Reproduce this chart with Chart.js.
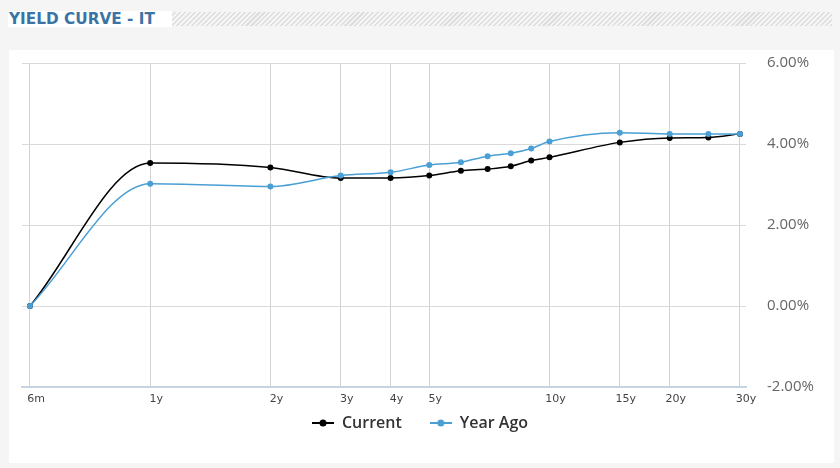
<!DOCTYPE html>
<html>
<head>
<meta charset="utf-8">
<script src="https://cdn.jsdelivr.net/npm/chart.js@4.4.1/dist/chart.umd.min.js"></script>
<style>
  body { margin: 0; background: #f5f5f5; width: 840px; height: 468px; position: relative; overflow: hidden; }
  .hatch { position: absolute; left: 172px; top: 12px; width: 660px; height: 14px;
    background: repeating-linear-gradient(135deg, #f5f5f5 0 2px, #dedede 2px 3.5px); }
  .title { position: absolute; left: 8px; top: 11px; height: 16px; padding: 0 17px 0 1px; background: #fff;
    font: bold 15.3px "DejaVu Sans", sans-serif; color: #3b74a4; line-height: 16px; }
  .panel { position: absolute; left: 9px; top: 50px; width: 825px; height: 413px; background: #fff; }
  #wrap { position: absolute; left: 8px; top: 33px; width: 826px; height: 432px; }
</style>
</head>
<body>
<div class="hatch"></div>
<div class="title">YIELD CURVE - IT</div>
<div class="panel"></div>
<div id="wrap"><canvas id="yieldChart"></canvas></div>
<script>
/**********
 Yield curve - IT
 **********/
const maturities = ['6m','1y','2y','3y','4y','5y','6y','7y','8y','9y','10y','15y','20y','25y','30y'];
const months     = [6, 12, 24, 36, 48, 60, 72, 84, 96, 108, 120, 180, 240, 300, 360];
const current    = [0.00, 3.53, 3.42, 3.16, 3.16, 3.22, 3.34, 3.38, 3.45, 3.59, 3.67, 4.04, 4.15, 4.16, 4.25];
const yearAgo    = [0.00, 3.02, 2.95, 3.22, 3.30, 3.48, 3.55, 3.70, 3.77, 3.89, 4.06, 4.28, 4.25, 4.25, 4.25];
const tickMonths = [6, 12, 24, 36, 48, 60, 120, 180, 240, 360];
const tickLabels = ['6m','1y','2y','3y','4y','5y','10y','15y','20y','30y'];
const yTicks     = [-2, 0, 2, 4, 6];

const BLACK = '#000000';
const BLUE = '#4a9fd5';

// legend symbol: short line with a dot
function legendIcon(color){
    const c = document.createElement('canvas');
    c.width = 22; c.height = 10;
    const g = c.getContext('2d');
    g.strokeStyle = color; g.lineWidth = 2;
    g.beginPath(); g.moveTo(0, 5); g.lineTo(22, 5); g.stroke();
    g.fillStyle = color;
    g.beginPath(); g.arc(11, 5, 3.5, 0, Math.PI*2); g.fill();
    return c;
}
const icons = [legendIcon(BLACK), legendIcon(BLUE)];

// pull the legend up closer to the axis labels
const legendShift = {
    id: 'legendShift',
    afterLayout(chart){
        chart.legend.top -= 24;
        chart.legend.bottom -= 24;
    }
};

const toPoints = (vals) => vals.map((v, i) => ({x: months[i], y: v}));

const ctx = document.getElementById('yieldChart').getContext('2d');
let yieldChart = new Chart(ctx, {
    type: 'line',
    data: {
        datasets: [{
            label: 'Current',
            data: toPoints(current),
            borderColor: BLACK,
            backgroundColor: BLACK,
            borderWidth: 1.5,
            pointRadius: 3,
            pointBorderWidth: 0,
            cubicInterpolationMode: 'monotone',
            order: 2,
        }, {
            label: 'Year Ago',
            data: toPoints(yearAgo),
            borderColor: BLUE,
            backgroundColor: BLUE,
            borderWidth: 1.5,
            pointRadius: 3,
            pointBorderWidth: 0,
            cubicInterpolationMode: 'monotone',
            order: 1,
        }],
    },
    options: {
        responsive: true,
        maintainAspectRatio: false,
        animation: false,
        layout: { padding: { left: 14, right: 16, top: 0, bottom: 0 } },
        plugins: {
            tooltip: { enabled: false },
            legend: {
                position: 'bottom',
                labels: {
                    usePointStyle: true,
                    pointStyleWidth: 22,
                    padding: 28,
                    color: '#333',
                    font: { family: '"Open Sans", sans-serif', size: 16, weight: '600' },
                    sort: (a, b) => a.datasetIndex - b.datasetIndex,
                    generateLabels: (chart) => {
                        const items = Chart.defaults.plugins.legend.labels.generateLabels(chart);
                        items.forEach(it => { it.pointStyle = icons[it.datasetIndex]; });
                        return items;
                    },
                },
            },
        },
        scales: {
            x: {
                type: 'logarithmic',
                min: 5.73,
                max: 372.7,
                afterBuildTicks: (scale) => { scale.ticks = tickMonths.map(v => ({value: v})); },
                afterFit: (scale) => { scale.height = 24; },
                grid: { color: '#d3d3d3', drawTicks: false },
                border: { color: '#c6d4e2', width: 2 },
                ticks: {
                    autoSkip: false,
                    maxRotation: 0,
                    padding: 6,
                    labelOffset: 6,
                    color: '#444',
                    font: { family: '"DejaVu Sans", sans-serif', size: 11 },
                    callback: (v) => tickLabels[tickMonths.indexOf(v)],
                },
            },
            y: {
                position: 'right',
                min: -2,
                max: 6,
                afterBuildTicks: (scale) => { scale.ticks = yTicks.map(v => ({value: v})); },
                afterFit: (scale) => { scale.width = 72; },
                grid: { color: '#dadada', drawTicks: false },
                border: { display: false },
                ticks: {
                    padding: 21,
                    color: '#666',
                    font: { family: '"Open Sans", sans-serif', size: 15 },
                    callback: (v) => v.toFixed(2) + '%',
                },
            },
        },
    },
    plugins: [legendShift],
});
</script>
</body>
</html>
